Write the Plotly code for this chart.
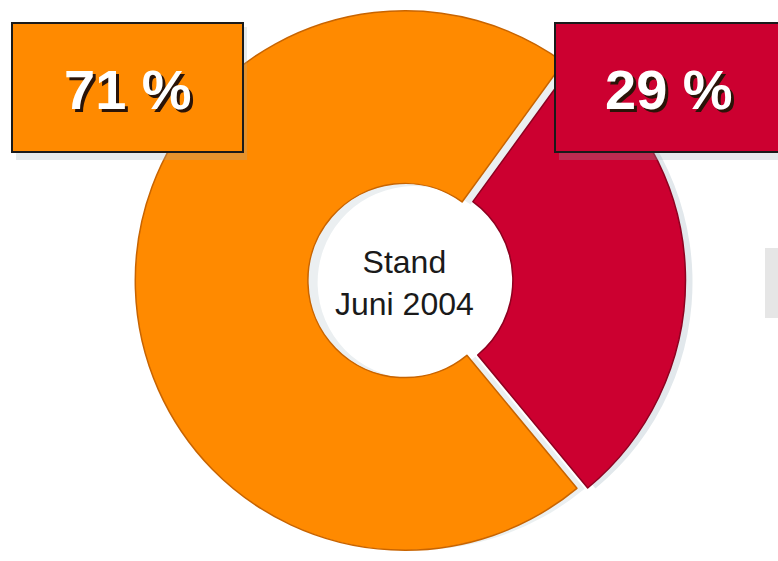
import plotly.graph_objects as go

# Share of the two groups (status June 2004)
groups = ["Gruppe B", "Gruppe A"]
shares = [29, 71]
share_labels = ["29 %", "71 %"]
slice_colors = ["#CC0030", "#FF8A00"]
edge_colors = ["#8E0020", "#C86400"]
center_text = "Stand<br>Juni 2004"

W, H = 778, 561


def px(x):
    return x / W


def py(y):
    return 1 - y / H


fig = go.Figure()

# soft drop shadow of the ring
fig.add_trace(go.Pie(
    labels=groups, values=shares, sort=False, direction="clockwise",
    rotation=36, hole=0.36, pull=[0.04, 0],
    marker=dict(colors=["#dfe6ea", "#e9eef0"], line=dict(width=0)),
    textinfo="none", hoverinfo="skip", showlegend=False, opacity=0.9,
    domain=dict(x=[px(405 - 280.5 + 9), px(405 + 280.5 + 9)], y=[0, 1 - 4 / H]),
))

# the ring itself
fig.add_trace(go.Pie(
    labels=groups, values=shares, sort=False, direction="clockwise",
    rotation=36, hole=0.36, pull=[0.04, 0],
    marker=dict(colors=slice_colors, line=dict(color=edge_colors, width=1.5)),
    textinfo="none", hoverinfo="label+percent", showlegend=False,
    domain=dict(x=[px(405 - 280.5), px(405 + 280.5)], y=[0, 1]),
))

shapes = []
annotations = []

# small grey tab at the right edge
shapes.append(dict(type="rect", xref="paper", yref="paper", layer="below",
                   x0=px(765), x1=px(790), y0=py(318), y1=py(248),
                   fillcolor="#e6e6e6", line=dict(width=0)))

# value boxes: (left, right, centre of text x)
boxes = [
    (555, 785, 669),  # 29 %
    (12, 243, 128),   # 71 %
]
for (x0, x1, tx), col, lab in zip(boxes, slice_colors, share_labels):
    shapes.append(dict(type="rect", xref="paper", yref="paper",
                       x0=px(x0 + 4), x1=px(x1 + 4), y0=py(160), y1=py(27),
                       fillcolor="rgba(150,170,180,0.25)", line=dict(width=0)))
    shapes.append(dict(type="rect", xref="paper", yref="paper",
                       x0=px(x0), x1=px(x1), y0=py(152), y1=py(23),
                       fillcolor=col, line=dict(color="#1a1a1a", width=2)))
    annotations.append(dict(xref="paper", yref="paper", x=px(tx), y=py(89),
                            xanchor="center", yanchor="middle",
                            text=f"<b>{lab}</b>", showarrow=False,
                            font=dict(family="Liberation Sans", size=56, color="#ffffff",
                                      shadow="3px 3px 0px #2a1408")))

annotations.append(dict(xref="paper", yref="paper", x=px(404), y=py(283),
                        xanchor="center", yanchor="middle",
                        text=center_text, showarrow=False,
                        font=dict(family="Liberation Sans", size=32, color="#1a1a1a")))

fig.update_layout(
    width=W, height=H,
    margin=dict(l=0, r=0, t=0, b=0),
    paper_bgcolor="#ffffff", plot_bgcolor="#ffffff",
    shapes=shapes, annotations=annotations,
    showlegend=False,
)

fig.write_html("out.html")
